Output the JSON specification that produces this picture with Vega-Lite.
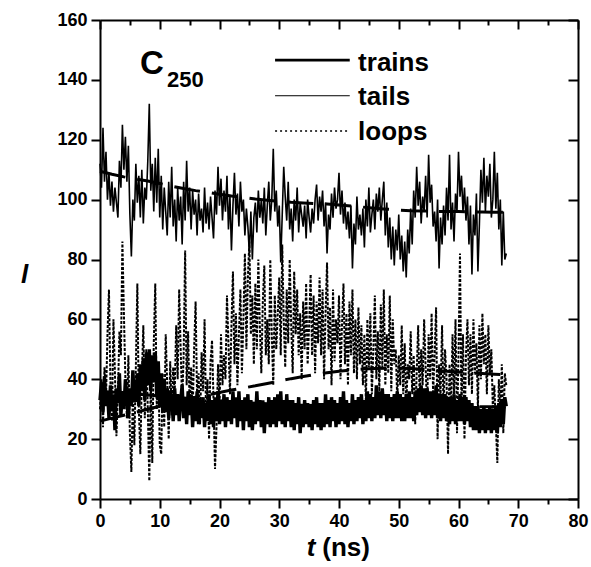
{
"$schema": "https://vega.github.io/schema/vega-lite/v6.json",
"width": 478, "height": 479,
"autosize": {"type": "none"},
"padding": {"left": 100, "top": 20, "right": 13, "bottom": 68},
"background": "white",
"config": {"view": {"stroke": null}, "font": "Liberation Sans"},
"datasets": {
"series": [
{"t":0,"trains":33,"tails":112,"loops":30},{"t":0.25,"trains":39,"tails":104,"loops":40},{"t":0.5,"trains":29,"tails":124,"loops":24},{"t":0.75,"trains":41,"tails":106,"loops":44},
{"t":1,"trains":31,"tails":116,"loops":33},{"t":1.25,"trains":36,"tails":100,"loops":55},{"t":1.5,"trains":27,"tails":109,"loops":70},{"t":1.75,"trains":38,"tails":98,"loops":38},
{"t":2,"trains":30,"tails":106,"loops":26},{"t":2.25,"trains":35,"tails":96,"loops":60},{"t":2.5,"trains":23,"tails":104,"loops":42},{"t":2.75,"trains":37,"tails":99,"loops":21},
{"t":3,"trains":32,"tails":94,"loops":35},{"t":3.25,"trains":42,"tails":113,"loops":56},{"t":3.5,"trains":28,"tails":104,"loops":48},{"t":3.75,"trains":36,"tails":125,"loops":86},
{"t":4,"trains":30,"tails":110,"loops":62},{"t":4.25,"trains":40,"tails":121,"loops":40},{"t":4.5,"trains":34,"tails":106,"loops":27},{"t":4.75,"trains":27,"tails":118,"loops":48},
{"t":5,"trains":37,"tails":95,"loops":22},{"t":5.25,"trains":31,"tails":81,"loops":9},{"t":5.5,"trains":43,"tails":100,"loops":35},{"t":5.75,"trains":33,"tails":93,"loops":18},
{"t":6,"trains":33,"tails":112,"loops":44},{"t":6.25,"trains":42,"tails":99,"loops":72},{"t":6.5,"trains":31,"tails":108,"loops":30},{"t":6.75,"trains":45,"tails":94,"loops":15},
{"t":7,"trains":36,"tails":110,"loops":40},{"t":7.25,"trains":47,"tails":92,"loops":58},{"t":7.5,"trains":33,"tails":104,"loops":27},{"t":7.75,"trains":49,"tails":100,"loops":50},
{"t":8,"trains":38,"tails":113,"loops":30},{"t":8.25,"trains":50,"tails":132,"loops":6},{"t":8.5,"trains":36,"tails":103,"loops":40},{"t":8.75,"trains":48,"tails":112,"loops":12},
{"t":9,"trains":39,"tails":96,"loops":52},{"t":9.25,"trains":49,"tails":114,"loops":72},{"t":9.5,"trains":34,"tails":99,"loops":30},{"t":9.75,"trains":46,"tails":117,"loops":45},
{"t":10,"trains":31,"tails":94,"loops":18},{"t":10.25,"trains":42,"tails":108,"loops":15},{"t":10.5,"trains":29,"tails":90,"loops":42},{"t":10.75,"trains":40,"tails":104,"loops":24},
{"t":11,"trains":29,"tails":96,"loops":55},{"t":11.25,"trains":37,"tails":88,"loops":38},{"t":11.5,"trains":27,"tails":106,"loops":20},{"t":11.75,"trains":36,"tails":94,"loops":46},
{"t":12,"trains":34,"tails":111,"loops":28},{"t":12.25,"trains":26,"tails":91,"loops":44},{"t":12.5,"trains":37,"tails":100,"loops":35},{"t":12.75,"trains":28,"tails":86,"loops":58},
{"t":13,"trains":35,"tails":104,"loops":40},{"t":13.25,"trains":26,"tails":93,"loops":70},{"t":13.5,"trains":33,"tails":101,"loops":50},{"t":13.75,"trains":38,"tails":85,"loops":32},
{"t":14,"trains":27,"tails":106,"loops":48},{"t":14.25,"trains":34,"tails":93,"loops":83},{"t":14.5,"trains":25,"tails":113,"loops":38},{"t":14.75,"trains":36,"tails":96,"loops":56},
{"t":15,"trains":28,"tails":104,"loops":30},{"t":15.25,"trains":35,"tails":90,"loops":44},{"t":15.5,"trains":24,"tails":103,"loops":28},{"t":15.75,"trains":33,"tails":95,"loops":50},
{"t":16,"trains":26,"tails":100,"loops":66},{"t":16.25,"trains":36,"tails":88,"loops":34},{"t":16.5,"trains":25,"tails":102,"loops":42},{"t":16.75,"trains":33,"tails":93,"loops":25},
{"t":17,"trains":27,"tails":97,"loops":49},{"t":17.25,"trains":34,"tails":89,"loops":36},{"t":17.5,"trains":24,"tails":104,"loops":60},{"t":17.75,"trains":32,"tails":92,"loops":28},
{"t":18,"trains":26,"tails":99,"loops":40},{"t":18.25,"trains":35,"tails":90,"loops":20},{"t":18.5,"trains":25,"tails":101,"loops":46},{"t":18.75,"trains":33,"tails":94,"loops":53},
{"t":19,"trains":24,"tails":87,"loops":33},{"t":19.25,"trains":34,"tails":103,"loops":10},{"t":19.5,"trains":26,"tails":95,"loops":24},{"t":19.75,"trains":36,"tails":111,"loops":45},
{"t":20,"trains":25,"tails":98,"loops":30},{"t":20.25,"trains":33,"tails":107,"loops":55},{"t":20.5,"trains":26,"tails":93,"loops":38},{"t":20.75,"trains":35,"tails":103,"loops":48},
{"t":21,"trains":24,"tails":96,"loops":40},{"t":21.25,"trains":34,"tails":108,"loops":68},{"t":21.5,"trains":26,"tails":90,"loops":52},{"t":21.75,"trains":33,"tails":101,"loops":35},
{"t":22,"trains":25,"tails":83,"loops":58},{"t":22.25,"trains":36,"tails":98,"loops":76},{"t":22.5,"trains":27,"tails":109,"loops":45},{"t":22.75,"trains":34,"tails":95,"loops":62},
{"t":23,"trains":24,"tails":102,"loops":38},{"t":23.25,"trains":36,"tails":91,"loops":55},{"t":23.5,"trains":26,"tails":106,"loops":70},{"t":23.75,"trains":33,"tails":96,"loops":42},
{"t":24,"trains":23,"tails":100,"loops":60},{"t":24.25,"trains":34,"tails":88,"loops":82},{"t":24.5,"trains":26,"tails":97,"loops":50},{"t":24.75,"trains":35,"tails":91,"loops":74},
{"t":25,"trains":24,"tails":82,"loops":86},{"t":25.25,"trains":33,"tails":96,"loops":55},{"t":25.5,"trains":23,"tails":80,"loops":68},{"t":25.75,"trains":32,"tails":94,"loops":45},
{"t":26,"trains":25,"tails":99,"loops":72},{"t":26.25,"trains":36,"tails":89,"loops":50},{"t":26.5,"trains":26,"tails":103,"loops":80},{"t":26.75,"trains":33,"tails":94,"loops":58},
{"t":27,"trains":24,"tails":100,"loops":42},{"t":27.25,"trains":33,"tails":92,"loops":66},{"t":27.5,"trains":22,"tails":104,"loops":78},{"t":27.75,"trains":32,"tails":88,"loops":48},
{"t":28,"trains":25,"tails":98,"loops":60},{"t":28.25,"trains":34,"tails":106,"loops":45},{"t":28.5,"trains":24,"tails":93,"loops":80},{"t":28.75,"trains":33,"tails":100,"loops":55},
{"t":29,"trains":25,"tails":117,"loops":38},{"t":29.25,"trains":34,"tails":96,"loops":68},{"t":29.5,"trains":24,"tails":103,"loops":50},{"t":29.75,"trains":35,"tails":91,"loops":62},
{"t":30,"trains":26,"tails":98,"loops":74},{"t":30.25,"trains":36,"tails":79,"loops":48},{"t":30.5,"trains":25,"tails":95,"loops":85},{"t":30.75,"trains":33,"tails":111,"loops":60},
{"t":31,"trains":24,"tails":101,"loops":44},{"t":31.25,"trains":35,"tails":93,"loops":70},{"t":31.5,"trains":26,"tails":106,"loops":52},{"t":31.75,"trains":33,"tails":90,"loops":80},
{"t":32,"trains":24,"tails":97,"loops":58},{"t":32.25,"trains":33,"tails":86,"loops":42},{"t":32.5,"trains":23,"tails":100,"loops":76},{"t":32.75,"trains":32,"tails":93,"loops":55},
{"t":33,"trains":25,"tails":104,"loops":70},{"t":33.25,"trains":34,"tails":89,"loops":48},{"t":33.5,"trains":22,"tails":99,"loops":62},{"t":33.75,"trains":31,"tails":95,"loops":40},
{"t":34,"trains":24,"tails":91,"loops":66},{"t":34.25,"trains":33,"tails":98,"loops":50},{"t":34.5,"trains":25,"tails":87,"loops":72},{"t":34.75,"trains":32,"tails":100,"loops":45},
{"t":35,"trains":24,"tails":94,"loops":58},{"t":35.25,"trains":31,"tails":89,"loops":75},{"t":35.5,"trains":23,"tails":97,"loops":48},{"t":35.75,"trains":33,"tails":92,"loops":68},
{"t":36,"trains":25,"tails":100,"loops":42},{"t":36.25,"trains":34,"tails":105,"loops":66},{"t":36.5,"trains":24,"tails":93,"loops":52},{"t":36.75,"trains":32,"tails":101,"loops":74},
{"t":37,"trains":23,"tails":96,"loops":48},{"t":37.25,"trains":32,"tails":103,"loops":70},{"t":37.5,"trains":24,"tails":91,"loops":40},{"t":37.75,"trains":35,"tails":99,"loops":62},
{"t":38,"trains":25,"tails":82,"loops":79},{"t":38.25,"trains":33,"tails":95,"loops":50},{"t":38.5,"trains":24,"tails":90,"loops":64},{"t":38.75,"trains":34,"tails":102,"loops":38},
{"t":39,"trains":26,"tails":94,"loops":70},{"t":39.25,"trains":33,"tails":104,"loops":46},{"t":39.5,"trains":24,"tails":97,"loops":60},{"t":39.75,"trains":32,"tails":100,"loops":52},
{"t":40,"trains":25,"tails":109,"loops":68},{"t":40.25,"trains":34,"tails":95,"loops":40},{"t":40.5,"trains":26,"tails":103,"loops":58},{"t":40.75,"trains":36,"tails":92,"loops":72},
{"t":41,"trains":25,"tails":99,"loops":45},{"t":41.25,"trains":33,"tails":90,"loops":62},{"t":41.5,"trains":24,"tails":96,"loops":38},{"t":41.75,"trains":32,"tails":87,"loops":66},
{"t":42,"trains":26,"tails":98,"loops":48},{"t":42.25,"trains":35,"tails":77,"loops":70},{"t":42.5,"trains":25,"tails":92,"loops":42},{"t":42.75,"trains":33,"tails":85,"loops":60},
{"t":43,"trains":26,"tails":101,"loops":40},{"t":43.25,"trains":34,"tails":90,"loops":64},{"t":43.5,"trains":27,"tails":95,"loops":45},{"t":43.75,"trains":35,"tails":88,"loops":58},
{"t":44,"trains":25,"tails":97,"loops":38},{"t":44.25,"trains":33,"tails":84,"loops":55},{"t":44.5,"trains":26,"tails":100,"loops":32},{"t":44.75,"trains":36,"tails":91,"loops":60},
{"t":45,"trains":27,"tails":104,"loops":44},{"t":45.25,"trains":35,"tails":89,"loops":62},{"t":45.5,"trains":26,"tails":95,"loops":35},{"t":45.75,"trains":34,"tails":100,"loops":50},
{"t":46,"trains":27,"tails":90,"loops":68},{"t":46.25,"trains":38,"tails":102,"loops":40},{"t":46.5,"trains":28,"tails":96,"loops":56},{"t":46.75,"trains":36,"tails":104,"loops":36},
{"t":47,"trains":27,"tails":93,"loops":65},{"t":47.25,"trains":37,"tails":100,"loops":44},{"t":47.5,"trains":28,"tails":106,"loops":70},{"t":47.75,"trains":35,"tails":88,"loops":38},
{"t":48,"trains":26,"tails":99,"loops":55},{"t":48.25,"trains":35,"tails":84,"loops":42},{"t":48.5,"trains":27,"tails":94,"loops":68},{"t":48.75,"trains":34,"tails":80,"loops":36},
{"t":49,"trains":26,"tails":91,"loops":60},{"t":49.25,"trains":35,"tails":78,"loops":45},{"t":49.5,"trains":27,"tails":90,"loops":50},{"t":49.75,"trains":36,"tails":83,"loops":33},
{"t":50,"trains":27,"tails":95,"loops":48},{"t":50.25,"trains":35,"tails":80,"loops":38},{"t":50.5,"trains":26,"tails":88,"loops":58},{"t":50.75,"trains":34,"tails":76,"loops":35},
{"t":51,"trains":26,"tails":86,"loops":52},{"t":51.25,"trains":35,"tails":74,"loops":30},{"t":51.5,"trains":27,"tails":90,"loops":45},{"t":51.75,"trains":36,"tails":82,"loops":40},
{"t":52,"trains":27,"tails":97,"loops":56},{"t":52.25,"trains":34,"tails":85,"loops":35},{"t":52.5,"trains":26,"tails":103,"loops":48},{"t":52.75,"trains":36,"tails":94,"loops":25},
{"t":53,"trains":28,"tails":111,"loops":42},{"t":53.25,"trains":37,"tails":98,"loops":58},{"t":53.5,"trains":29,"tails":106,"loops":33},{"t":53.75,"trains":38,"tails":92,"loops":50},
{"t":54,"trains":28,"tails":101,"loops":38},{"t":54.25,"trains":37,"tails":96,"loops":60},{"t":54.5,"trains":27,"tails":108,"loops":44},{"t":54.75,"trains":37,"tails":94,"loops":30},
{"t":55,"trains":28,"tails":115,"loops":55},{"t":55.25,"trains":36,"tails":99,"loops":40},{"t":55.5,"trains":27,"tails":105,"loops":62},{"t":55.75,"trains":36,"tails":91,"loops":35},
{"t":56,"trains":28,"tails":96,"loops":48},{"t":56.25,"trains":38,"tails":86,"loops":64},{"t":56.5,"trains":27,"tails":100,"loops":20},{"t":56.75,"trains":35,"tails":77,"loops":45},
{"t":57,"trains":26,"tails":94,"loops":35},{"t":57.25,"trains":35,"tails":85,"loops":58},{"t":57.5,"trains":27,"tails":98,"loops":28},{"t":57.75,"trains":35,"tails":88,"loops":50},
{"t":58,"trains":26,"tails":104,"loops":40},{"t":58.25,"trains":34,"tails":93,"loops":15},{"t":58.5,"trains":25,"tails":115,"loops":45},{"t":58.75,"trains":34,"tails":90,"loops":28},
{"t":59,"trains":26,"tails":99,"loops":55},{"t":59.25,"trains":35,"tails":86,"loops":35},{"t":59.5,"trains":25,"tails":102,"loops":60},{"t":59.75,"trains":33,"tails":96,"loops":22},
{"t":60,"trains":26,"tails":116,"loops":48},{"t":60.25,"trains":35,"tails":101,"loops":82},{"t":60.5,"trains":26,"tails":108,"loops":30},{"t":60.75,"trains":34,"tails":96,"loops":55},
{"t":61,"trains":25,"tails":104,"loops":20},{"t":61.25,"trains":34,"tails":93,"loops":48},{"t":61.5,"trains":26,"tails":101,"loops":60},{"t":61.75,"trains":33,"tails":85,"loops":38},
{"t":62,"trains":24,"tails":98,"loops":55},{"t":62.25,"trains":32,"tails":75,"loops":35},{"t":62.5,"trains":23,"tails":95,"loops":60},{"t":62.75,"trains":31,"tails":88,"loops":42},
{"t":63,"trains":23,"tails":102,"loops":52},{"t":63.25,"trains":31,"tails":76,"loops":30},{"t":63.5,"trains":22,"tails":92,"loops":58},{"t":63.75,"trains":30,"tails":110,"loops":40},
{"t":64,"trains":23,"tails":99,"loops":62},{"t":64.25,"trains":31,"tails":114,"loops":45},{"t":64.5,"trains":22,"tails":96,"loops":55},{"t":64.75,"trains":30,"tails":108,"loops":35},
{"t":65,"trains":23,"tails":101,"loops":58},{"t":65.25,"trains":31,"tails":112,"loops":42},{"t":65.5,"trains":22,"tails":94,"loops":50},{"t":65.75,"trains":30,"tails":100,"loops":30},
{"t":66,"trains":23,"tails":116,"loops":38},{"t":66.25,"trains":31,"tails":97,"loops":25},{"t":66.5,"trains":22,"tails":109,"loops":12},{"t":66.75,"trains":32,"tails":90,"loops":40},
{"t":67,"trains":24,"tails":100,"loops":28},{"t":67.25,"trains":33,"tails":78,"loops":45},{"t":67.5,"trains":25,"tails":96,"loops":22},{"t":67.75,"trains":34,"tails":80,"loops":42},
{"t":68,"trains":31,"tails":82,"loops":38}
],
"fits": [
{"t":0,"trainsFit":36.0,"tailsFit":109.5,"loopsFit":26},{"t":2,"trainsFit":35.7,"tailsFit":108.5,"loopsFit":27},{"t":4,"trainsFit":35.4,"tailsFit":107.6,"loopsFit":28},{"t":6,"trainsFit":35.0,"tailsFit":106.9,"loopsFit":29},
{"t":8,"trainsFit":34.7,"tailsFit":106.2,"loopsFit":30},{"t":10,"trainsFit":34.4,"tailsFit":105.4,"loopsFit":31},{"t":12,"trainsFit":34.0,"tailsFit":104.5,"loopsFit":32},{"t":14,"trainsFit":33.7,"tailsFit":103.7,"loopsFit":33},
{"t":16,"trainsFit":33.4,"tailsFit":103.0,"loopsFit":34},{"t":18,"trainsFit":33.1,"tailsFit":102.4,"loopsFit":34.8},{"t":20,"trainsFit":32.8,"tailsFit":101.8,"loopsFit":35.6},{"t":22,"trainsFit":32.5,"tailsFit":101.2,"loopsFit":36.4},
{"t":24,"trainsFit":32.2,"tailsFit":100.7,"loopsFit":37.1},{"t":26,"trainsFit":32.0,"tailsFit":100.2,"loopsFit":37.8},{"t":28,"trainsFit":31.8,"tailsFit":99.8,"loopsFit":38.6},{"t":30,"trainsFit":31.6,"tailsFit":99.4,"loopsFit":39.4},
{"t":32,"trainsFit":31.4,"tailsFit":99.1,"loopsFit":40.2},{"t":34,"trainsFit":31.3,"tailsFit":98.9,"loopsFit":40.9},{"t":36,"trainsFit":31.2,"tailsFit":98.7,"loopsFit":41.6},{"t":38,"trainsFit":31.1,"tailsFit":98.5,"loopsFit":42.2},
{"t":40,"trainsFit":31.0,"tailsFit":98.2,"loopsFit":42.7},{"t":42,"trainsFit":30.9,"tailsFit":97.9,"loopsFit":43.1},{"t":44,"trainsFit":30.9,"tailsFit":97.5,"loopsFit":43.4},{"t":46,"trainsFit":30.8,"tailsFit":97.1,"loopsFit":43.6},
{"t":48,"trainsFit":30.8,"tailsFit":96.8,"loopsFit":43.7},{"t":50,"trainsFit":30.8,"tailsFit":96.5,"loopsFit":43.7},{"t":52,"trainsFit":30.8,"tailsFit":96.3,"loopsFit":43.6},{"t":54,"trainsFit":30.8,"tailsFit":96.2,"loopsFit":43.3},
{"t":56,"trainsFit":30.8,"tailsFit":96.1,"loopsFit":43.0},{"t":58,"trainsFit":30.8,"tailsFit":96.0,"loopsFit":42.7},{"t":60,"trainsFit":30.8,"tailsFit":96.0,"loopsFit":42.4},{"t":62,"trainsFit":30.8,"tailsFit":95.9,"loopsFit":42.1},
{"t":64,"trainsFit":30.8,"tailsFit":95.9,"loopsFit":41.9},{"t":66,"trainsFit":30.8,"tailsFit":95.8,"loopsFit":41.7},{"t":68,"trainsFit":30.8,"tailsFit":95.8,"loopsFit":41.5}
]
},
"layer": [
{
"data": {"name": "series"},
"encoding": {
"x": {"field": "t", "type": "quantitative", "scale": {"domain": [0, 80], "nice": false},
"axis": {"orient": "bottom", "values": [0,5,10,15,20,25,30,35,40,45,50,55,60,65,70,75,80], "labelExpr": "datum.value % 10 === 0 ? datum.label : ''", "tickSize": {"condition": {"test": "datum.value % 10 !== 0", "value": 5}, "value": 9}, "tickWidth": 2, "tickColor": "black", "domainColor": "black", "domainWidth": 2, "labelFont": "Liberation Sans", "labelFontWeight": "bold", "labelFontSize": 18, "labelColor": "black", "labelPadding": 4, "grid": false, "title": null, "labelFlush": false, "labelOverlap": false}}
},
"layer": [
{"mark": {"type": "line", "color": "black", "strokeWidth": 2, "strokeDash": [3, 1.5]}, "encoding": {"y": {"field": "loops", "type": "quantitative"}}},
{"mark": {"type": "line", "color": "black", "strokeWidth": 1.6}, "encoding": {"y": {"field": "tails", "type": "quantitative"}}},
{"mark": {"type": "line", "color": "black", "strokeWidth": 3.4}, "encoding": {"y": {"field": "trains", "type": "quantitative", "scale": {"domain": [0, 160], "nice": false},
"axis": {"orient": "left", "values": [0,10,20,30,40,50,60,70,80,90,100,110,120,130,140,150,160], "labelExpr": "datum.value % 20 === 0 ? datum.label : ''", "tickSize": {"condition": {"test": "datum.value % 20 !== 0", "value": 5}, "value": 9}, "tickWidth": 2, "tickColor": "black", "domainColor": "black", "domainWidth": 2, "labelFont": "Liberation Sans", "labelFontWeight": "bold", "labelFontSize": 18, "labelColor": "black", "labelPadding": 4, "grid": false, "labelFlush": false, "labelOverlap": false,
"title": "l", "titleFont": "Liberation Sans", "titleFontStyle": "italic", "titleFontWeight": "bold", "titleFontSize": 26, "titleColor": "black", "titleAngle": 0, "titleAlign": "center", "titleBaseline": "alphabetic", "titleX": -76, "titleY": 262}}}}
]
},
{
"data": {"name": "fits"},
"encoding": {
"x": {"field": "t", "type": "quantitative", "scale": {"domain": [0, 80], "nice": false},
"axis": {"orient": "top", "values": [0,5,10,15,20,25,30,35,40,45,50,55,60,65,70,75,80], "labels": false, "tickSize": {"condition": {"test": "datum.value % 10 !== 0", "value": -5}, "value": -9}, "tickWidth": 2, "tickColor": "black", "domainColor": "black", "domainWidth": 2, "grid": false, "title": null}}
},
"layer": [
{"mark": {"type": "line", "color": "black", "strokeWidth": 3, "strokeDash": [26, 12]}, "encoding": {"y": {"field": "tailsFit", "type": "quantitative"}}},
{"mark": {"type": "line", "color": "black", "strokeWidth": 3, "strokeDash": [26, 12]}, "encoding": {"y": {"field": "loopsFit", "type": "quantitative"}}},
{"mark": {"type": "line", "color": "black", "strokeWidth": 3, "strokeDash": [26, 12]}, "encoding": {"y": {"field": "trainsFit", "type": "quantitative", "scale": {"domain": [0, 160], "nice": false},
"axis": {"orient": "right", "values": [0,10,20,30,40,50,60,70,80,90,100,110,120,130,140,150,160], "labels": false, "tickSize": {"condition": {"test": "datum.value % 20 !== 0", "value": -6}, "value": -10}, "tickWidth": 2, "tickColor": "black", "domainColor": "black", "domainWidth": 2, "grid": false, "title": null}}}}
]
},
{
"data": {"values": [{}]},
"layer": [
{"mark": {"type": "rule", "color": "black", "strokeWidth": 2.6}, "encoding": {"x": {"datum": 29.3, "type": "quantitative", "axis": null}, "x2": {"datum": 41.8}, "y": {"datum": 146.6, "type": "quantitative", "axis": null}}},
{"mark": {"type": "rule", "color": "black", "strokeWidth": 1}, "encoding": {"x": {"datum": 29.3, "type": "quantitative", "axis": null}, "x2": {"datum": 41.8}, "y": {"datum": 134.7, "type": "quantitative", "axis": null}}},
{"mark": {"type": "rule", "color": "black", "strokeWidth": 1.5, "strokeDash": [2, 3]}, "encoding": {"x": {"datum": 29.3, "type": "quantitative", "axis": null}, "x2": {"datum": 41.8}, "y": {"datum": 122.9, "type": "quantitative", "axis": null}}},
{"mark": {"type": "text", "align": "left", "baseline": "alphabetic", "font": "Liberation Sans", "fontWeight": "bold", "fontSize": 26, "color": "black"}, "encoding": {"x": {"datum": 43.2, "type": "quantitative", "axis": null}, "y": {"datum": 143.1, "type": "quantitative", "axis": null}, "text": {"value": "trains"}}},
{"mark": {"type": "text", "align": "left", "baseline": "alphabetic", "font": "Liberation Sans", "fontWeight": "bold", "fontSize": 26, "color": "black"}, "encoding": {"x": {"datum": 43.2, "type": "quantitative", "axis": null}, "y": {"datum": 131.6, "type": "quantitative", "axis": null}, "text": {"value": "tails"}}},
{"mark": {"type": "text", "align": "left", "baseline": "alphabetic", "font": "Liberation Sans", "fontWeight": "bold", "fontSize": 26, "color": "black"}, "encoding": {"x": {"datum": 43.2, "type": "quantitative", "axis": null}, "y": {"datum": 119.9, "type": "quantitative", "axis": null}, "text": {"value": "loops"}}},
{"mark": {"type": "text", "align": "left", "baseline": "alphabetic", "font": "Liberation Sans", "fontWeight": "bold", "fontSize": 33, "color": "black"}, "encoding": {"x": {"datum": 6.7, "type": "quantitative", "axis": null}, "y": {"datum": 142, "type": "quantitative", "axis": null}, "text": {"value": "C"}}},
{"mark": {"type": "text", "align": "left", "baseline": "alphabetic", "font": "Liberation Sans", "fontWeight": "bold", "fontSize": 22, "color": "black"}, "encoding": {"x": {"datum": 11.2, "type": "quantitative", "axis": null}, "y": {"datum": 137.5, "type": "quantitative", "axis": null}, "text": {"value": "250"}}},
{"mark": {"type": "text", "align": "left", "baseline": "alphabetic", "font": "Liberation Sans", "fontWeight": "bold", "fontStyle": "italic", "fontSize": 26, "color": "black"}, "encoding": {"x": {"datum": 34.6, "type": "quantitative", "axis": null}, "y": {"datum": -19, "type": "quantitative", "axis": null}, "text": {"value": "t"}}},
{"mark": {"type": "text", "align": "left", "baseline": "alphabetic", "font": "Liberation Sans", "fontWeight": "bold", "fontSize": 26, "color": "black"}, "encoding": {"x": {"datum": 37.2, "type": "quantitative", "axis": null}, "y": {"datum": -19, "type": "quantitative", "axis": null}, "text": {"value": "(ns)"}}}
]
}
],
"resolve": {"scale": {"x": "shared", "y": "shared"}, "axis": {"x": "independent", "y": "independent"}}
}
